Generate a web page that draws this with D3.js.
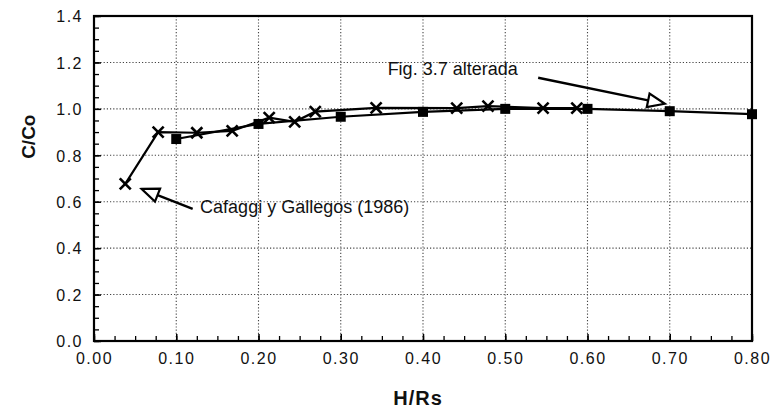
<!DOCTYPE html>
<html>
<head>
<meta charset="utf-8">
<script src="https://cdn.jsdelivr.net/npm/d3@7/dist/d3.min.js"></script>
<style>
  html, body { margin: 0; padding: 0; background: #fff; }
  svg { display: block; }
  .tick text { font-family: "Liberation Sans", Arial, sans-serif; font-size: 16px; letter-spacing: 1.5px; fill: #111; }
</style>
</head>
<body>
<script>
// H/Rs values and relative concentration C/Co
const squareX = [0.10, 0.20, 0.30, 0.40, 0.50, 0.60, 0.70, 0.80];
const squareY = [0.870, 0.935, 0.966, 0.987, 1.000, 1.000, 0.990, 0.977];

const crossX = [0.038, 0.078, 0.125, 0.168, 0.213, 0.244, 0.269, 0.343, 0.441, 0.479, 0.546, 0.587];
const crossY = [0.677, 0.900, 0.897, 0.905, 0.962, 0.944, 0.988, 1.004, 1.003, 1.012, 1.003, 1.003];

const xMajorTicks = [0, 0.1, 0.2, 0.3, 0.4, 0.5, 0.6, 0.7, 0.8];
const yMajorTicks = [0, 0.2, 0.4, 0.6, 0.8, 1.0, 1.2, 1.4];

// annotation callouts: label anchor, arrow tail and tip (data units)
const noteLabels = ["Fig. 3.7 alterada", "Cafaggi y Gallegos (1986)"];
const noteText = [[0.357, 1.147], [0.129, 0.552]];
const noteTail = [[0.540, 1.134], [0.120, 0.569]];
const noteTip  = [[0.694, 1.022], [0.058, 0.655]];

const W = 776, H = 410;
const svg = d3.select("body").append("svg").attr("width", W).attr("height", H);
svg.append("rect").attr("width", W).attr("height", H).attr("fill", "#fff");

const x = d3.scaleLinear().domain([0, 0.8]).range([94, 752]);
const y = d3.scaleLinear().domain([0, 1.4]).range([341, 16]);

// dotted grid
const grid = svg.append("g").attr("stroke", "#444").attr("stroke-width", 1.1)
  .attr("stroke-dasharray", "1.2,2");
grid.selectAll("line.v").data(xMajorTicks.slice(1, -1)).join("line")
  .attr("x1", d => x(d)).attr("x2", d => x(d)).attr("y1", y(1.4)).attr("y2", y(0));
grid.selectAll("line.h").data(yMajorTicks.slice(1, -1)).join("line")
  .attr("x1", x(0)).attr("x2", x(0.8)).attr("y1", d => y(d)).attr("y2", d => y(d));

// minor ticks
const xMinor = d3.range(0, 0.8001, 0.025);
const yMinor = d3.range(0, 1.4001, 0.05);
svg.append("g").attr("transform", `translate(0,${y(0)})`)
  .call(d3.axisBottom(x).tickValues(xMinor).tickSize(-5).tickFormat(""))
  .call(g => g.select(".domain").remove())
  .call(g => g.selectAll(".tick line").attr("stroke", "#000").attr("stroke-width", 1.3));
svg.append("g").attr("transform", `translate(${x(0)},0)`)
  .call(d3.axisLeft(y).tickValues(yMinor).tickSize(-5).tickFormat(""))
  .call(g => g.select(".domain").remove())
  .call(g => g.selectAll(".tick line").attr("stroke", "#000").attr("stroke-width", 1.3));

// labelled axes
svg.append("g").attr("transform", `translate(0,${y(0)})`)
  .call(d3.axisBottom(x).tickValues(xMajorTicks).tickSize(-7).tickPadding(12).tickFormat(d3.format(".2f")))
  .call(g => g.select(".domain").remove())
  .call(g => g.selectAll(".tick line").attr("stroke", "#000").attr("stroke-width", 1.5));
svg.append("g").attr("transform", `translate(${x(0)},0)`)
  .call(d3.axisLeft(y).tickValues(yMajorTicks).tickSize(-7).tickPadding(11).tickFormat(d3.format(".1f")))
  .call(g => g.select(".domain").remove())
  .call(g => g.selectAll(".tick line").attr("stroke", "#000").attr("stroke-width", 1.5))
  .call(g => g.selectAll(".tick text").attr("dy", "0.36em"));

// frame
svg.append("rect")
  .attr("x", x(0)).attr("y", y(1.4))
  .attr("width", x(0.8) - x(0)).attr("height", y(0) - y(1.4))
  .attr("fill", "none").attr("stroke", "#000").attr("stroke-width", 2.2);

// series lines
const line = d3.line().x(d => x(d[0])).y(d => y(d[1]));
const sqData = squareX.map((v, i) => [v, squareY[i]]);
const crData = crossX.map((v, i) => [v, crossY[i]]);

svg.append("path").datum(sqData).attr("d", line)
  .attr("fill", "none").attr("stroke", "#000").attr("stroke-width", 2.2);
svg.append("path").datum(crData).attr("d", line)
  .attr("fill", "none").attr("stroke", "#000").attr("stroke-width", 2.2);

// square markers
svg.selectAll("rect.sq").data(sqData).join("rect")
  .attr("x", d => x(d[0]) - 5).attr("y", d => y(d[1]) - 5)
  .attr("width", 10).attr("height", 10).attr("fill", "#000");

// cross markers
const cross = svg.append("g").attr("stroke", "#000").attr("stroke-width", 2.6);
crData.forEach(d => {
  const cx = x(d[0]), cy = y(d[1]), r = 5.5;
  cross.append("line").attr("x1", cx - r).attr("y1", cy - r).attr("x2", cx + r).attr("y2", cy + r);
  cross.append("line").attr("x1", cx - r).attr("y1", cy + r).attr("x2", cx + r).attr("y2", cy - r);
});

// callouts with open arrowheads
noteLabels.forEach((label, i) => {
  const tx = x(noteTail[i][0]), ty = y(noteTail[i][1]);
  const px = x(noteTip[i][0]), py = y(noteTip[i][1]);
  const ang = Math.atan2(py - ty, px - tx);
  const len = 17, half = 7;
  const bx = px - len * Math.cos(ang), by = py - len * Math.sin(ang);
  const nx = -Math.sin(ang), ny = Math.cos(ang);
  svg.append("line").attr("x1", tx).attr("y1", ty).attr("x2", bx).attr("y2", by)
    .attr("stroke", "#000").attr("stroke-width", 2.4);
  svg.append("polygon")
    .attr("points", [[px, py], [bx + nx * half, by + ny * half], [bx - nx * half, by - ny * half]].map(p => p.join(",")).join(" "))
    .attr("fill", "#fff").attr("stroke", "#000").attr("stroke-width", 2.2).attr("stroke-linejoin", "miter");
  svg.append("text")
    .attr("x", x(noteText[i][0])).attr("y", y(noteText[i][1]))
    .attr("font-family", "Liberation Sans, Arial, sans-serif")
    .attr("font-size", 18).attr("fill", "#111")
    .text(label);
});

// axis titles
svg.append("text").attr("x", 418).attr("y", 405).attr("text-anchor", "middle")
  .attr("font-family", "Liberation Sans, Arial, sans-serif").attr("font-weight", "bold")
  .attr("font-size", 20).attr("letter-spacing", 1).attr("fill", "#111").text("H/Rs");
svg.append("text").attr("transform", `translate(35,${y(0.88)}) rotate(-90)`)
  .attr("text-anchor", "middle")
  .attr("font-family", "Liberation Sans, Arial, sans-serif").attr("font-weight", "bold")
  .attr("font-size", 19).attr("fill", "#111").text("C/Co");
</script>
</body>
</html>
